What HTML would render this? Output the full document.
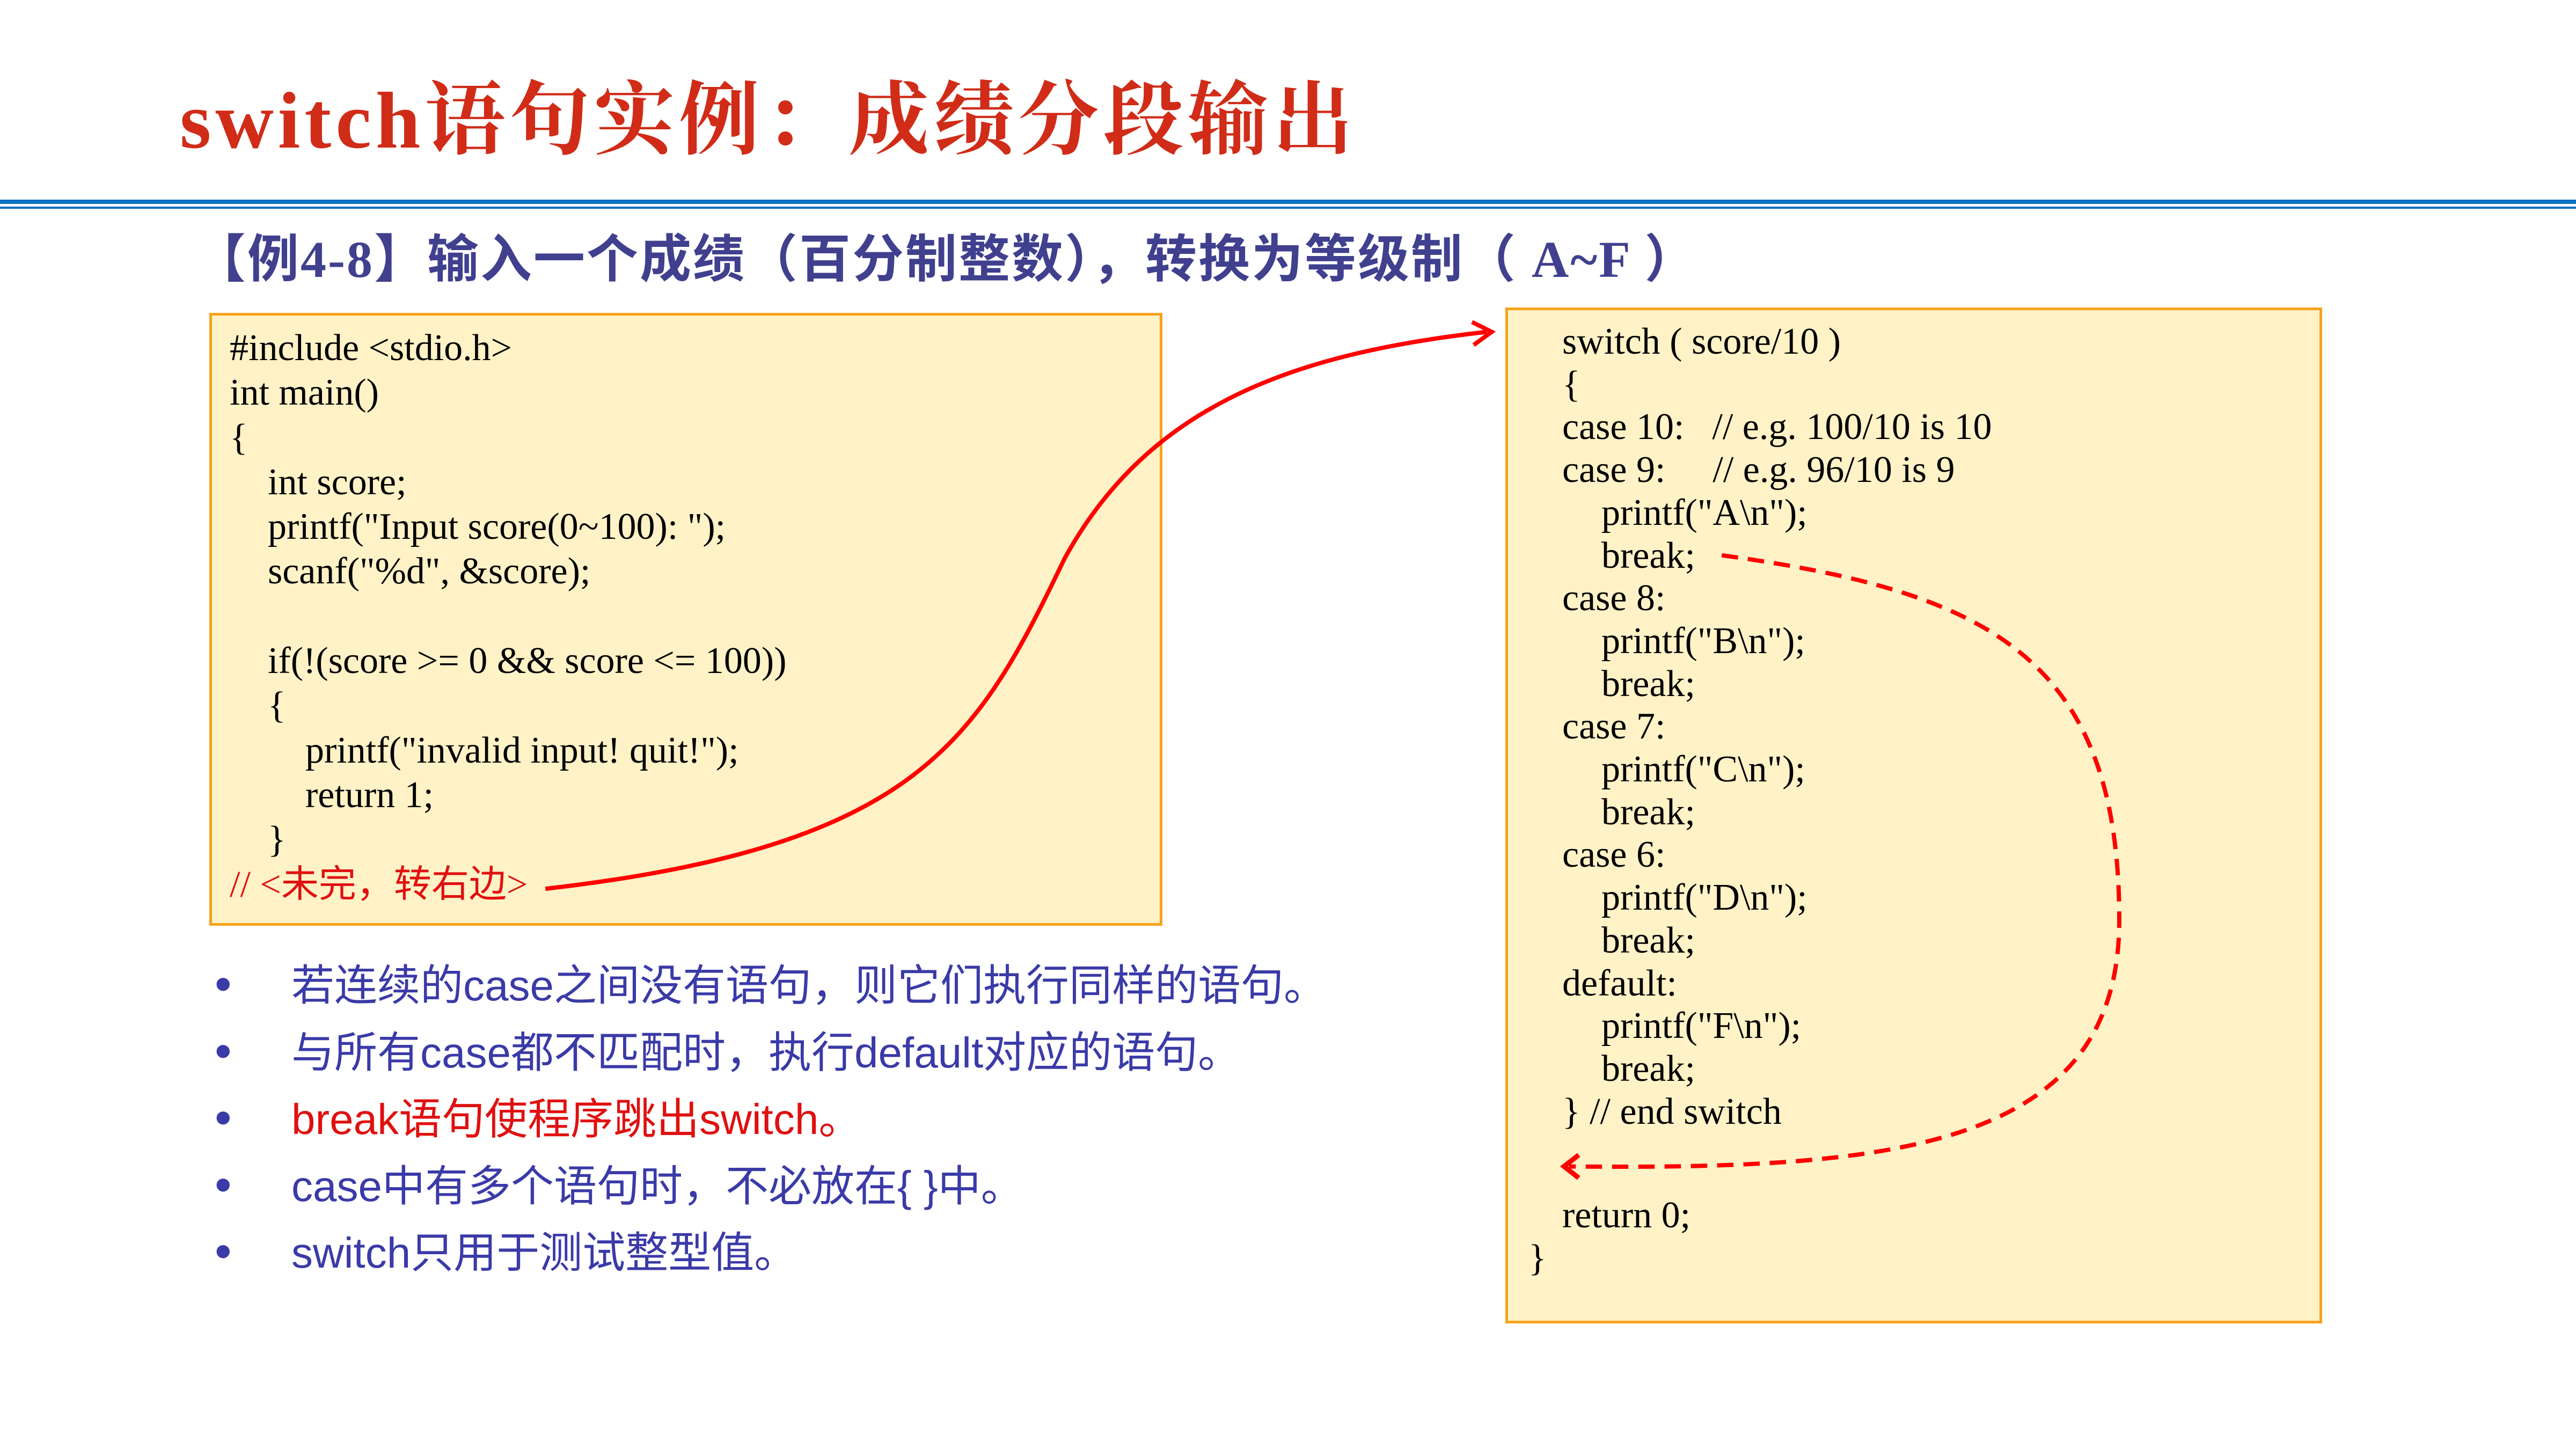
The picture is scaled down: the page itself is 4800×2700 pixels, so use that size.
<!DOCTYPE html>
<html><head><meta charset="utf-8"><style>
*{margin:0;padding:0}
body{width:4800px;height:2700px;position:relative;background:#fff;overflow:hidden}
.t{position:absolute;white-space:pre}
#title{left:335px;top:102px;font:bold 150px "Liberation Serif","Noto Serif CJK SC",serif;color:#d02c18;letter-spacing:8px}
#sub{left:362px;top:405px;font:bold 96px "Liberation Serif","Noto Sans CJK SC",sans-serif;color:#40408f;letter-spacing:3px}
.box{position:absolute;background:#fff2c6;border:5px solid #f7a21b;box-sizing:border-box}
.c1{position:absolute;font:70px/83.3px "Liberation Serif",serif;color:#000;white-space:pre}
.c2{position:absolute;font:70px/79.7px "Liberation Serif",serif;color:#000;white-space:pre}
.c1 i,.c2 i{font-style:normal;display:inline-block}
.bl{position:absolute;left:400px;width:2500px;font:80px "Liberation Sans","Noto Sans CJK SC",sans-serif;color:#3a3aa8;white-space:pre}
.bl div{height:124.6px;line-height:124.6px}
.bl span.d{display:inline-block;width:143px;font-size:90px;line-height:80px;vertical-align:baseline}
</style></head><body>
<div class="t" id="title">switch语句实例：成绩分段输出</div>
<div style="position:absolute;left:0;top:372px;width:4800px;height:8px;background:#0070c0"></div>
<div style="position:absolute;left:0;top:385px;width:4800px;height:4px;background:#0070c0"></div>
<div class="t" id="sub">【例4-8】输入一个成绩（百分制整数），转换为等级制（ A~F ）</div>
<div class="box" style="left:390px;top:583px;width:1776px;height:1142px"></div>
<div class="box" style="left:2805px;top:573px;width:1522px;height:1893px"></div>
<div class="c1" style="left:428px;top:607px">#include &lt;stdio.h&gt;
int main()
{
<i style="width:71px"></i>int score;
<i style="width:71px"></i>printf("Input score(0~100): ");
<i style="width:71px"></i>scanf("%d", &amp;score);

<i style="width:71px"></i>if(!(score &gt;= 0 &amp;&amp; score &lt;= 100))
<i style="width:71px"></i>{
<i style="width:141px"></i>printf("invalid input! quit!");
<i style="width:141px"></i>return 1;
<i style="width:71px"></i>}
<span style="color:#e01010;font-family:'Liberation Serif','Noto Sans CJK SC',serif">// &lt;未完，转右边&gt;</span></div>
<div class="c2" style="left:2911px;top:597px">switch ( score/10 )
{
case 10:<i style="width:52px"></i>// e.g. 100/10 is 10
case 9:<i style="width:88px"></i>// e.g. 96/10 is 9
<i style="width:73px"></i>printf("A\n");
<i style="width:73px"></i>break;
case 8:
<i style="width:73px"></i>printf("B\n");
<i style="width:73px"></i>break;
case 7:
<i style="width:73px"></i>printf("C\n");
<i style="width:73px"></i>break;
case 6:
<i style="width:73px"></i>printf("D\n");
<i style="width:73px"></i>break;
default:
<i style="width:73px"></i>printf("F\n");
<i style="width:73px"></i>break;
} // end switch</div>
<div class="c2" style="left:2911px;top:2225px">return 0;</div>
<div class="c2" style="left:2848px;top:2305px">}</div>
<div class="bl" style="top:1775px;left:400px"><div><span class="d">•</span>若连续的case之间没有语句，则它们执行同样的语句。</div><div><span class="d">•</span>与所有case都不匹配时，执行default对应的语句。</div><div><span class="d">•</span><span style="color:#e01010">break语句使程序跳出switch。</span></div><div><span class="d">•</span>case中有多个语句时，不必放在{ }中。</div><div><span class="d">•</span>switch只用于测试整型值。</div></div>
<svg style="position:absolute;left:0;top:0" width="4800" height="2700" viewBox="0 0 1568 882">
<path d="M332 541 C 560 515, 595 450, 648 340 C 700 245, 790 215, 905 202" fill="none" stroke="#f00" stroke-width="2.6"/>
<path d="M896 196 L908 202 L897 210" fill="none" stroke="#f00" stroke-width="2.6"/>
<path d="M1048 338 C 1210 360, 1290 400, 1290 560 C 1290 700, 1150 712, 955 710" fill="none" stroke="#f00" stroke-width="2.6" stroke-dasharray="10,6"/>
<path d="M961 703 L952 710 L961 717" fill="none" stroke="#f00" stroke-width="3"/>
</svg>
</body></html>
